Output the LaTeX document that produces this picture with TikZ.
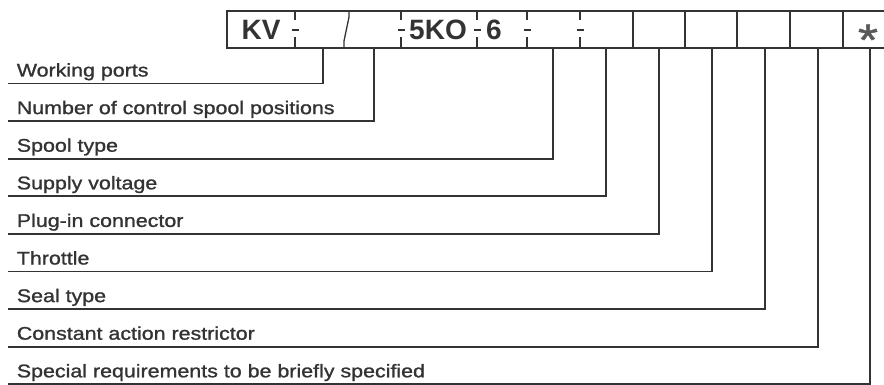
\documentclass[tikz,border=0pt]{standalone}
\usepackage{fontspec}
\setmainfont{Liberation Sans}
\newfontfamily\lblfont[FakeStretch=1.17,FakeBold=1.2]{Liberation Sans}

\tikzset{
  lbl/.style={anchor=base west,inner sep=0pt,font=\lblfont\fontsize{18.3}{18}\selectfont},
  code/.style={inner sep=0pt,font=\fontsize{28}{28}\selectfont\bfseries},
  sep/.style={line width=1.3pt},
}

\begin{document}
\begin{tikzpicture}[x=1pt,y=-1pt,line width=1.7pt,color=black!80]
  \useasboundingbox (0,0) rectangle (884,385);
  % ordering code box
  \draw (227,11) rectangle (900,48);
  \foreach \x in {633,685,737,790,843} \draw (\x,11) -- (\x,48);
  \node[code] (kv) at (261,30) {KV};
  \node[code] (ko) at (438,30) {5KO};
  \node[code] (six) at (494,30) {6};
  \node[inner sep=0pt,anchor=base,text=black!65,font=\lblfont\fontsize{44}{44}\selectfont] (star) at (868,55) {*};
  % dashes between fields
  \foreach \x in {295,401,477,527,580} {
    \draw[sep] (\x,11) -- (\x,20) (\x,37) -- (\x,48);
    \draw[line width=2.6pt] (\x-3.5,30) -- (\x+3.5,30);
  }
  \draw[sep] (349,11) -- (349,17) -- (344,41) -- (344,48);
  % leader lines
  \foreach \t/\x [count=\i from 0] in {Working ports/323,Number of control spool positions/374,
      Spool type/553,Supply voltage/606,Plug-in connector/659,Throttle/712,
      Seal type/765,Constant action restrictor/818,Special requirements to be briefly specified/870} {
    \coordinate (s\i) at (8,83.5+37.6*\i);
    \coordinate (b\i) at (\x,48);
    \node[lbl] (l\i) at (16,76.5+37.6*\i) {\t};
    \draw (s\i) -| (b\i);
  }
\end{tikzpicture}
\end{document}
